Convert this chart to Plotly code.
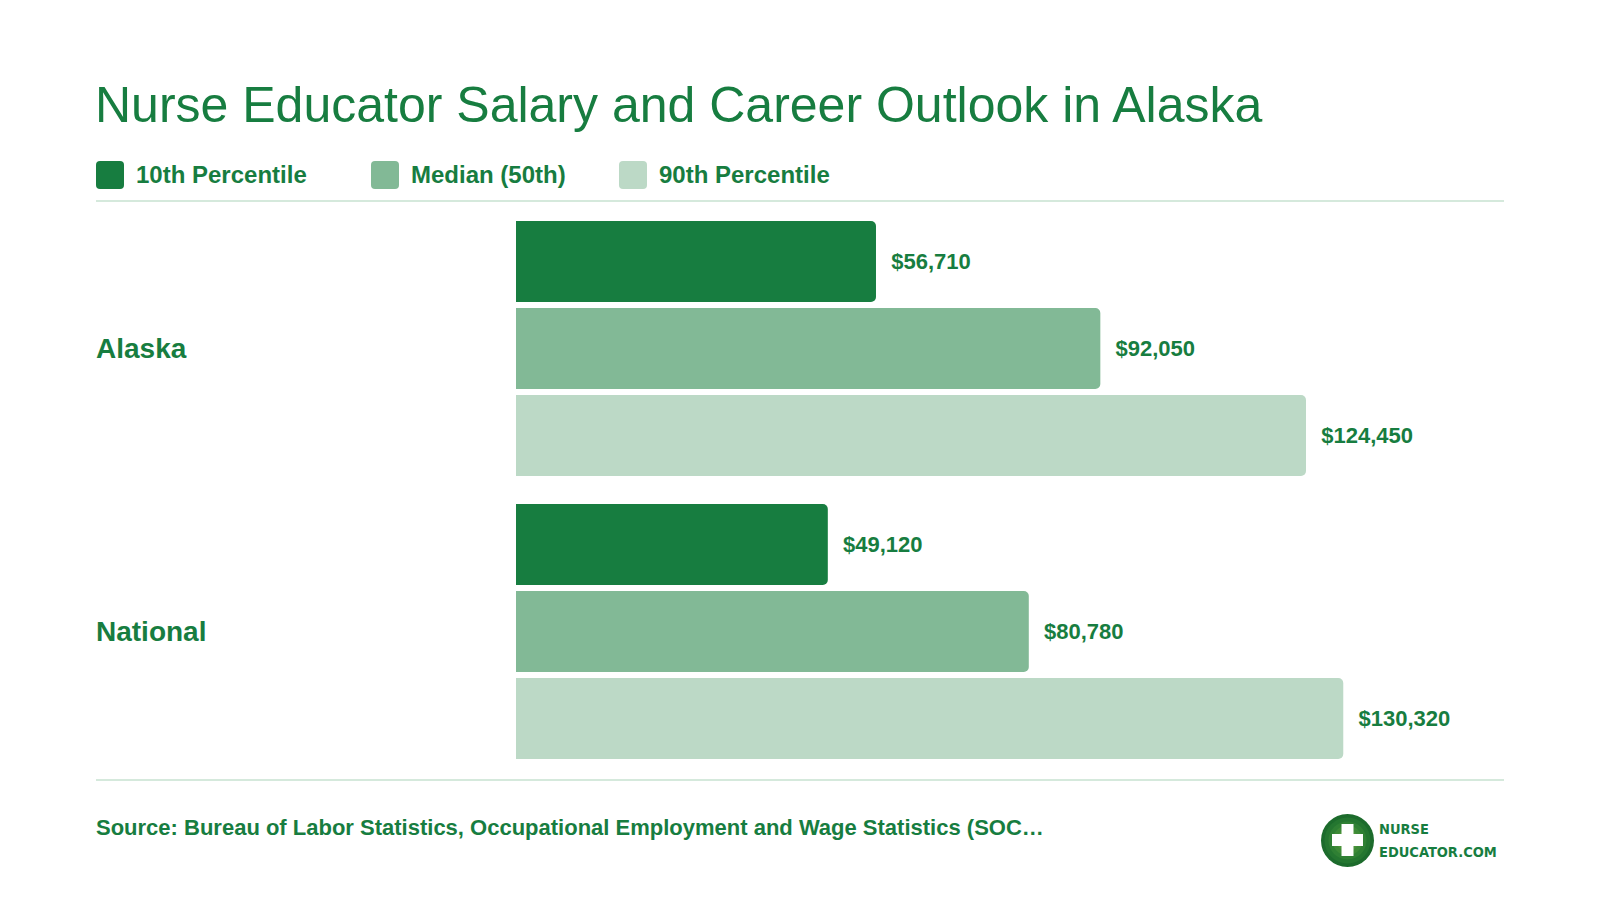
import plotly.graph_objects as go

# ---- data ----
regions = ["Alaska", "National"]
series_names = ["10th Percentile", "Median (50th)", "90th Percentile"]
p10 = [56710, 49120]
p50 = [92050, 80780]
p90 = [124450, 130320]
title_text = "Nurse Educator Salary and Career Outlook in Alaska"
source_text = "Source: Bureau of Labor Statistics, Occupational Employment and Wage Statistics (SOC\u2026"

# ---- style ----
GREEN = "#177d40"
COLORS = ["#177d40", "#82b996", "#bcd9c6"]
LINE = "#d5e9dc"
FONT = "Liberation Sans, Arial, Helvetica, sans-serif"
W, H = 1600, 900
L, R, T, B = 516, 1504, 207, 773  # plot area in pixels


def xp(px):
    return (px - L) / (R - L)


def yp(py):
    return (B - py) / (B - T)


def rounded_rect(x0, y0, x1, y1, r):
    pts = [
        f"M{xp(x0 + r)},{yp(y0)}",
        f"L{xp(x1 - r)},{yp(y0)}",
        f"Q{xp(x1)},{yp(y0)} {xp(x1)},{yp(y0 + r)}",
        f"L{xp(x1)},{yp(y1 - r)}",
        f"Q{xp(x1)},{yp(y1)} {xp(x1 - r)},{yp(y1)}",
        f"L{xp(x0 + r)},{yp(y1)}",
        f"Q{xp(x0)},{yp(y1)} {xp(x0)},{yp(y1 - r)}",
        f"L{xp(x0)},{yp(y0 + r)}",
        f"Q{xp(x0)},{yp(y0)} {xp(x0 + r)},{yp(y0)}",
        "Z",
    ]
    return " ".join(pts)


fig = go.Figure()
for name, vals, col in zip(series_names, [p10, p50, p90], COLORS):
    fig.add_trace(go.Bar(
        name=name, y=regions, x=vals, orientation="h",
        marker=dict(color=col, line=dict(width=0)),
        text=["\u00a0\u00a0$" + f"{v:,}" for v in vals],
        textposition="outside", constraintext="none", cliponaxis=False,
        textfont=dict(family=FONT, size=22, color=GREEN, weight="bold"),
        hoverinfo="skip",
    ))

shapes = []
annotations = []

# separators
for yy in (201, 780):
    shapes.append(dict(type="line", xref="paper", yref="paper",
                       x0=xp(96), x1=xp(1504), y0=yp(yy), y1=yp(yy),
                       line=dict(color=LINE, width=2)))

# title
annotations.append(dict(text=title_text, xref="paper", yref="paper",
                        x=xp(93), y=yp(104.5), xanchor="left", yanchor="middle",
                        showarrow=False,
                        font=dict(family=FONT, size=50, color=GREEN)))

# legend
leg_sq = [96, 371, 619]
for sx, name, col in zip(leg_sq, series_names, COLORS):
    shapes.append(dict(type="path", xref="paper", yref="paper",
                       path=rounded_rect(sx, 161, sx + 28, 189, 4),
                       fillcolor=col, line=dict(width=0)))
    annotations.append(dict(text=name, xref="paper", yref="paper",
                            x=xp(sx + 38), y=yp(174), xanchor="left", yanchor="middle",
                            showarrow=False,
                            font=dict(family=FONT, size=24, color=GREEN, weight="bold")))

# category labels
for reg in regions:
    annotations.append(dict(text=reg, xref="paper", yref="y",
                            x=xp(94), y=reg, xanchor="left", yanchor="middle",
                            showarrow=False,
                            font=dict(family=FONT, size=28, color=GREEN, weight="bold")))

# source
annotations.append(dict(text=source_text, xref="paper", yref="paper",
                        x=xp(94), y=yp(827), xanchor="left", yanchor="middle",
                        showarrow=False,
                        font=dict(family=FONT, size=22, color=GREEN, weight="bold")))

# logo: pseudo radial gradient circle
cx, cy = 1347.5, 840.5
rings = [(26.5, "#1c6b2c"), (23, "#247630"), (19, "#2f8034"), (15, "#3d8a37"), (11, "#4a933a")]
for rr, col in rings:
    shapes.append(dict(type="circle", xref="paper", yref="paper",
                       x0=xp(cx - rr), x1=xp(cx + rr), y0=yp(cy + rr), y1=yp(cy - rr),
                       fillcolor=col, line=dict(width=0)))
shapes.append(dict(type="rect", xref="paper", yref="paper",
                   x0=xp(1332), x1=xp(1363), y0=yp(846), y1=yp(834),
                   fillcolor="white", line=dict(width=0)))
shapes.append(dict(type="rect", xref="paper", yref="paper",
                   x0=xp(1341.5), x1=xp(1353.5), y0=yp(856), y1=yp(824),
                   fillcolor="white", line=dict(width=0)))
LOGO_FONT = "Liberation Sans Narrow, DejaVu Sans Condensed, Liberation Sans, sans-serif"
annotations.append(dict(text="NURSE", xref="paper", yref="paper",
                        x=xp(1377), y=yp(829), xanchor="left", yanchor="middle",
                        showarrow=False,
                        font=dict(family=LOGO_FONT, size=14.5, color=GREEN, weight="bold")))
annotations.append(dict(text="EDUCATOR.COM", xref="paper", yref="paper",
                        x=xp(1377), y=yp(852), xanchor="left", yanchor="middle",
                        showarrow=False,
                        font=dict(family=LOGO_FONT, size=14.5, color=GREEN, weight="bold")))

fig.update_layout(
    width=W, height=H, autosize=False,
    margin=dict(l=L, r=W - R, t=T, b=H - B, pad=0),
    paper_bgcolor="white", plot_bgcolor="white",
    barmode="group", bargap=0.078, bargroupgap=0.069, barcornerradius=5,
    showlegend=False, hovermode=False,
    xaxis=dict(range=[0, 155640], visible=False, fixedrange=True),
    yaxis=dict(type="category", categoryorder="array", categoryarray=regions,
               range=[1.5, -0.5], visible=False, fixedrange=True),
    shapes=shapes, annotations=annotations,
    font=dict(family=FONT, color=GREEN),
)

fig.write_html("out.html", config={"displayModeBar": False})
